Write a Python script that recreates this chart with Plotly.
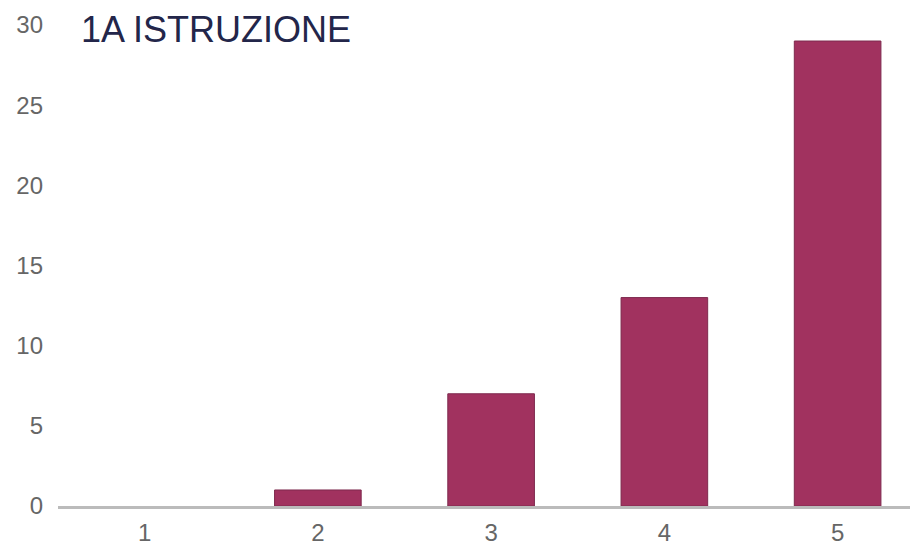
import plotly.graph_objects as go

categories = ["1", "2", "3", "4", "5"]
values = [0, 1, 7, 13, 29]
y_ticks = [0, 5, 10, 15, 20, 25, 30]
title_text = "1A ISTRUZIONE"

# the page body adds an 8px offset; compensate in size/margins
W, H = 910, 537
L, T, B, R = 50, 17, 39, 0

fig = go.Figure()
fig.add_trace(go.Bar(
    x=[1, 2, 3, 4, 5],
    y=values,
    width=0.5,
    marker=dict(color="#A1325F",
                line=dict(color="#7E2A4E", width=[0 if v == 0 else 1 for v in values])),
    hoverinfo="skip",
))

fig.update_layout(
    width=W, height=H,
    margin=dict(l=L, r=R, t=T, b=B),
    paper_bgcolor="white", plot_bgcolor="white",
    showlegend=False,
    font=dict(family="Liberation Sans, Arial, sans-serif", color="#666666", size=24),
    xaxis=dict(
        range=[0.5, 5.464],
        tickmode="array", tickvals=[1, 2, 3, 4, 5], ticktext=categories,
        showgrid=False, zeroline=False,
        showline=True, linecolor="#BBBBBB", linewidth=3,
        ticks="", ticklabelstandoff=3,
        tickfont=dict(size=24, color="#666666"),
    ),
    yaxis=dict(
        range=[0, 30],
        tickmode="array", tickvals=y_ticks,
        showgrid=False, zeroline=False, showline=False,
        ticks="", ticklabelstandoff=14,
        tickfont=dict(size=24, color="#666666"),
    ),
    annotations=[dict(
        text=title_text, xref="paper", yref="paper",
        x=(79 - 58) / 860, y=(506 - 30) / 481,
        xanchor="left", yanchor="middle", showarrow=False,
        font=dict(family="Liberation Sans, Arial, sans-serif", size=36, color="#23264A"),
    )],
)

fig.write_html("out.html")
